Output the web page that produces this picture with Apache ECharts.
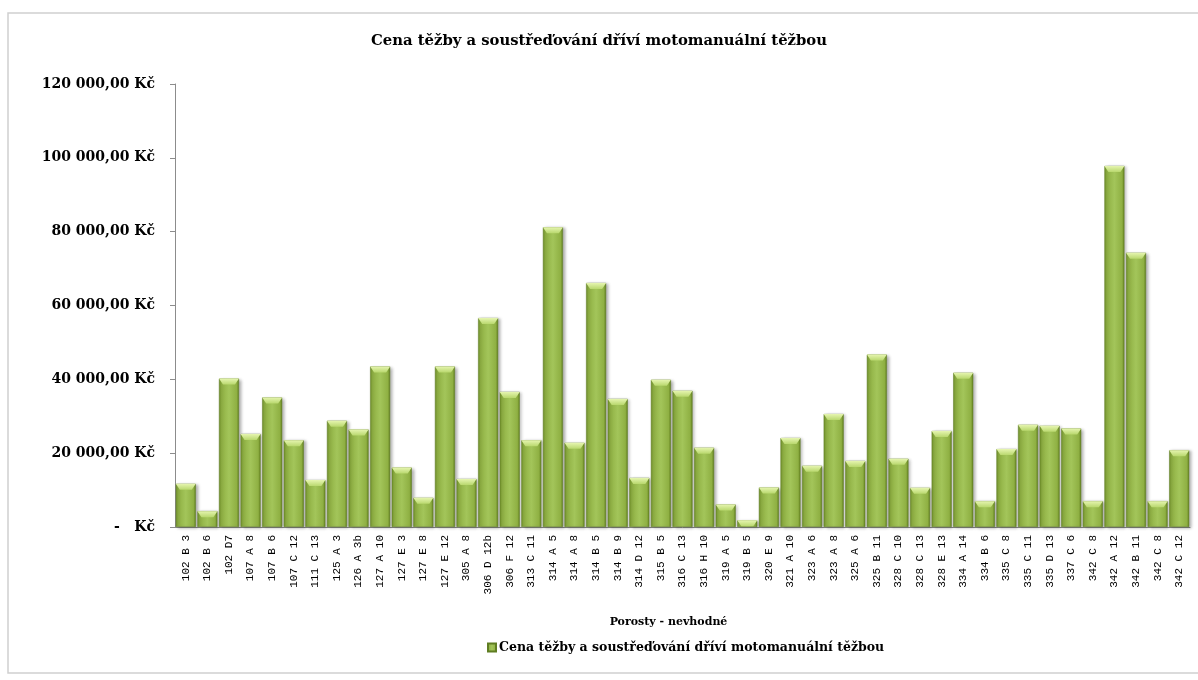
<!DOCTYPE html>
<html>
<head>
<meta charset="utf-8">
<title>Cena těžby a soustřeďování dříví motomanuální těžbou</title>
<script src="https://cdn.jsdelivr.net/npm/echarts@6/dist/echarts.min.js"></script>
<style>
  html, body { margin: 0; padding: 0; background: #fff; }
  #chart { width: 1198px; height: 680px; }
</style>
</head>
<body>
<div id="chart"></div>
<script>
// Stands (porosty) unsuitable for the method
const categories = [
  '102 B 3', '102 B 6', '102 D7', '107 A 8', '107 B 6', '107 C 12', '111 C 13', '125 A 3',
  '126 A 3b', '127 A 10', '127 E 3', '127 E 8', '127 E 12', '305 A 8', '306 D 12b', '306 F 12',
  '313 C 11', '314 A 5', '314 A 8', '314 B 5', '314 B 9', '314 D 12', '315 B 5', '316 C 13',
  '316 H 10', '319 A 5', '319 B 5', '320 E 9', '321 A 10', '323 A 6', '323 A 8', '325 A 6',
  '325 B 11', '328 C 10', '328 C 13', '328 E 13', '334 A 14', '334 B 6', '335 C 8', '335 C 11',
  '335 D 13', '337 C 6', '342 C 8', '342 A 12', '342 B 11', '342 C 8', '342 C 12'
];

// Cost of felling and skidding, CZK
const costs = [
  11700, 4300, 40200, 25200, 35100, 23500, 12700, 28800,
  26400, 43500, 16100, 7900, 43500, 13000, 56600, 36600,
  23500, 81200, 22800, 66100, 34700, 13300, 39900, 36900,
  21500, 6100, 1800, 10700, 24100, 16600, 30600, 17900,
  46700, 18500, 10600, 26000, 41800, 7000, 21100, 27700,
  27400, 26700, 7000, 97800, 74300, 7000, 20800
];

const yTicks = { min: 0, max: 120000, interval: 20000 };

const seriesName = 'Cena těžby a soustřeďování dříví motomanuální těžbou';

function formatKc(v) {
  if (v === 0) return '-   Kč';
  const s = Math.round(v).toString().replace(/\B(?=(\d{3})+(?!\d))/g, ' ');
  return s + ',00 Kč';
}

const chart = echarts.init(document.getElementById('chart'), null, { renderer: 'canvas' });

const barFill = new echarts.graphic.LinearGradient(0, 0, 1, 0, [
  { offset: 0, color: '#6f8f2a' },
  { offset: 0.12, color: '#8fb043' },
  { offset: 0.5, color: '#a3c55a' },
  { offset: 0.88, color: '#8fb043' },
  { offset: 1, color: '#62801f' }
]);

const capFill = new echarts.graphic.LinearGradient(0, 0, 0, 1, [
  { offset: 0, color: '#e6f5b0' },
  { offset: 1, color: '#b9d86e' }
]);

chart.setOption({
  backgroundColor: '#ffffff',
  animation: false,
  graphic: [{
    type: 'rect',
    shape: { x: 8, y: 13, width: 1200, height: 660 },
    style: { fill: 'none', stroke: '#d0d0d0', lineWidth: 1.5 },
    silent: true
  }],
  title: {
    text: 'Cena těžby a soustřeďování dříví motomanuální těžbou',
    left: 'center',
    top: 29,
    textStyle: { fontFamily: 'DejaVu Serif', fontWeight: 'bold', fontSize: 14.8, color: '#000' }
  },
  legend: {
    data: [seriesName],
    left: 482,
    top: 636,
    itemWidth: 8,
    itemHeight: 8,
    itemGap: 4,
    icon: 'rect',
    textStyle: { fontFamily: 'DejaVu Serif', fontWeight: 'bold', fontSize: 12.5, color: '#000', padding: [0, 0, 0, -2] }
  },
  grid: { left: 175, right: 8, top: 84, bottom: 153, containLabel: false },
  xAxis: {
    type: 'category',
    data: categories,
    name: 'Porosty - nevhodné',
    nameLocation: 'middle',
    nameGap: 90,
    nameTextStyle: { fontFamily: 'DejaVu Serif', fontWeight: 'bold', fontSize: 11, color: '#000', padding: [0, 28, 0, 0] },
    axisLine: { show: true, lineStyle: { color: '#8c8c8c', width: 1 } },
    axisTick: { show: false },
    axisLabel: {
      interval: 0,
      rotate: 90,
      margin: 8,
      fontFamily: 'Liberation Mono',
      fontSize: 11,
      color: '#000'
    },
    splitLine: { show: false }
  },
  yAxis: {
    type: 'value',
    min: yTicks.min,
    max: yTicks.max,
    interval: yTicks.interval,
    axisLine: { show: true, lineStyle: { color: '#8c8c8c', width: 1 } },
    axisTick: { show: true, inside: false, length: 5, lineStyle: { color: '#8c8c8c' } },
    axisLabel: {
      formatter: formatKc,
      margin: 20,
      fontFamily: 'DejaVu Serif',
      fontWeight: 'bold',
      fontSize: 14,
      color: '#000'
    },
    splitLine: { show: false }
  },
  series: [
    {
      name: seriesName,
      type: 'bar',
      data: costs,
      barWidth: 20,
      itemStyle: {
        color: barFill,
        borderColor: '#5f7d22',
        borderWidth: 0.5,
        shadowColor: 'rgba(0,0,0,0.3)',
        shadowBlur: 3,
        shadowOffsetX: 2,
        shadowOffsetY: 1
      }
    },
    {
      name: 'cap',
      type: 'pictorialBar',
      data: costs,
      barWidth: 20,
      barGap: '-100%',
      symbol: 'path://M0,0 L20,0 L16,6 L4,6 Z',
      symbolSize: [20, 6],
      symbolPosition: 'end',
      symbolOffset: [0, 0],
      itemStyle: { color: capFill },
      silent: true,
      z: 3
    }
  ]
});
</script>
</body>
</html>
